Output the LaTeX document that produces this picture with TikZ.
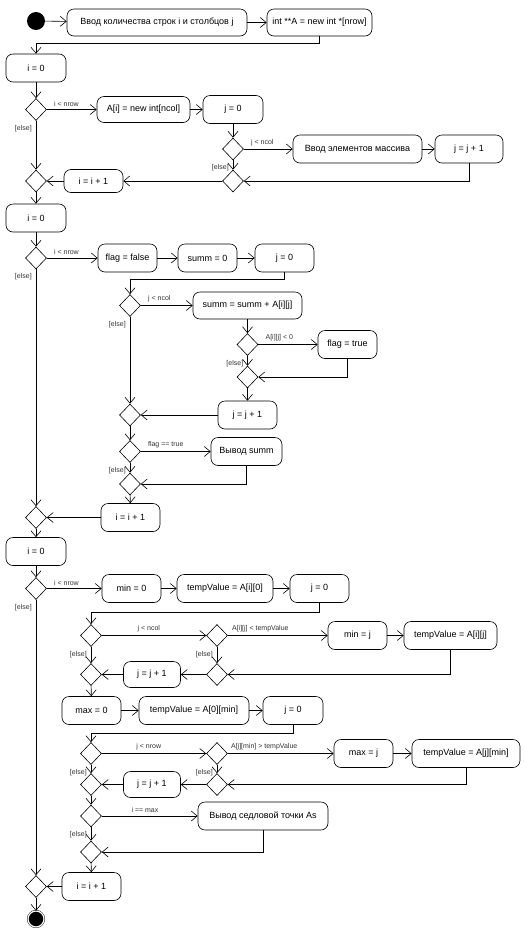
\documentclass[tikz,border=0pt]{standalone}
\usepackage{fontspec}
\setmainfont{Liberation Sans}
\usetikzlibrary{arrows.meta,positioning,shapes.geometric,calc}
\tikzset{
  actbox/.style={draw, rounded corners=7pt, align=center,
                 minimum width=#1, minimum height=28pt,
                 font=\fontsize{9}{10}\selectfont, inner sep=2pt,
                 line width=0.6pt},
  actbox/.default=59pt,
  decnode/.style={draw, diamond, minimum width=21pt, minimum height=22pt,
                  inner sep=0pt, line width=0.6pt},
  flow/.style={-{Straight Barb[length=6pt,width=10pt]}, line width=0.6pt},
  lbl/.style={font=\fontsize{7}{8}\selectfont, inner sep=1pt, text=black!80},
  gfirst/.style={lbl, pos=0, above right, xshift=6pt, yshift=2pt},
  gmid/.style={lbl, pos=0.45, above, yshift=2pt},
  gelse/.style={lbl, pos=0, below left, xshift=-3pt, yshift=-3pt},
  startnode/.style={circle, fill=black, minimum size=18pt, inner sep=0pt},
  endnode/.style={circle, fill=black, draw=black, double=white,
                  double distance=1.2pt, minimum size=16pt, inner sep=0pt},
}

\begin{document}
\begin{tikzpicture}[x=1pt, y=-1pt]
  \useasboundingbox (0,0) rectangle (524,930);

  % input and allocation of rows
  \node[startnode] (start) at (36,21) {};
  \node[actbox=180pt, minimum height=27pt] (inrc) at (157,22.5) {Ввод количества строк i и столбцов j};
  \node[actbox=105pt, minimum height=27pt] (alloc) at (319.5,22.5) {int **A = new int *[nrow]};
  \node[actbox=60pt] (iA) at (36,68) {i = 0};
  \node[decnode] (dA) at (36,109.5) {};
  \node[actbox=93pt, minimum height=26pt] (rowA) at (143.5,109.5) {A[i] = new int[ncol]};
  \node[actbox=60pt] (jA) at (233,109.5) {j = 0};
  \node[decnode] (dB) at (233,149) {};
  \node[actbox=129pt] (inel) at (357.5,149) {Ввод элементов массива};
  \node[actbox=68pt] (jincA) at (469,149) {j = j + 1};
  \node[decnode] (mB) at (233,181) {};
  \node[actbox=59pt, minimum height=23pt] (iincA) at (93.5,181) {i = i + 1};
  \node[decnode] (mA) at (36,181) {};

  \draw[flow] (start) -- (inrc);
  \draw[flow] (inrc) -- (alloc);
  \draw[flow] (alloc.south) -- ++(0,7) -| (iA.north);
  \draw[flow] (iA) -- (dA);
  \draw[flow] (dA) -- node[gfirst] {i < nrow} (rowA);
  \draw[flow] (rowA) -- (jA);
  \draw[flow] (jA) -- (dB);
  \draw[flow] (dB) -- node[gfirst] {j < ncol} (inel);
  \draw[flow] (inel) -- (jincA);
  \draw[flow] (jincA.south) |- (mB.east);
  \draw[flow] (dB) -- node[gelse] {[else]} (mB);
  \draw[flow] (mB) -- (iincA);
  \draw[flow] (iincA) -- (mA);
  \draw[flow] (dA) -- node[gelse] {[else]} (mA);

  % sums of rows
  \node[actbox=60pt] (iB) at (36,218) {i = 0};
  \node[decnode] (dC) at (36,258) {};
  \node[actbox] (flagF) at (127.5,258) {flag = false};
  \node[actbox] (summ0) at (207.5,258) {summ = 0};
  \node[actbox] (jB) at (284.5,258) {j = 0};
  \node[decnode] (dD) at (130,305.5) {};
  \node[actbox=109pt, minimum height=27pt] (summadd) at (247.5,305.5) {summ = summ + A[i][j]};
  \node[decnode] (dE) at (247.5,344.5) {};
  \node[actbox] (flagT) at (347.5,344.5) {flag = true};
  \node[decnode] (mE) at (247.5,377) {};
  \node[actbox] (jincB) at (247.5,415) {j = j + 1};
  \node[decnode] (mD) at (130,415) {};
  \node[decnode] (dF) at (130,451.5) {};
  \node[actbox=71pt] (outsumm) at (246.5,451.5) {Вывод summ};
  \node[decnode] (mF) at (130,484) {};
  \node[actbox] (iincB) at (130.5,517.5) {i = i + 1};
  \node[decnode] (mC) at (36,517.5) {};

  \draw[flow] (mA) -- (iB);
  \draw[flow] (iB) -- (dC);
  \draw[flow] (dC) -- node[gfirst] {i < nrow} (flagF);
  \draw[flow] (flagF) -- (summ0);
  \draw[flow] (summ0) -- (jB);
  \draw[flow] (jB.south) -- ++(0,7) -| (dD.north);
  \draw[flow] (dD) -- node[gfirst] {j < ncol} (summadd);
  \draw[flow] (summadd) -- (dE);
  \draw[flow] (dE) -- node[gfirst] {A[i][j] < 0} (flagT);
  \draw[flow] (dE) -- node[gelse] {[else]} (mE);
  \draw[flow] (flagT.south) |- (mE.east);
  \draw[flow] (mE) -- (jincB);
  \draw[flow] (jincB) -- (mD);
  \draw[flow] (dD) -- node[gelse] {[else]} (mD);
  \draw[flow] (mD) -- (dF);
  \draw[flow] (dF) -- node[gfirst] {flag == true} (outsumm);
  \draw[flow] (dF) -- node[gelse] {[else]} (mF);
  \draw[flow] (outsumm.south) |- (mF.east);
  \draw[flow] (mF) -- (iincB);
  \draw[flow] (iincB) -- (mC);
  \draw[flow] (dC) -- node[gelse] {[else]} (mC);

  % saddle points
  \node[actbox=60pt] (iC) at (36,551.5) {i = 0};
  \node[decnode] (dG) at (36,588.5) {};
  \node[actbox] (min0) at (131.5,588.5) {min = 0};
  \node[actbox=96pt] (tv0) at (225,588.5) {tempValue = A[i][0]};
  \node[actbox] (jC) at (319.5,588.5) {j = 0};
  \node[decnode] (dH) at (91,635.5) {};
  \node[decnode] (dI) at (217,635.5) {};
  \node[actbox] (minj) at (357.5,635.5) {min = j};
  \node[actbox=93pt] (tvij) at (450.5,635.5) {tempValue = A[i][j]};
  \node[decnode] (mI) at (217,674.5) {};
  \node[actbox=57pt, minimum height=26pt] (jincC) at (152,674.5) {j = j + 1};
  \node[decnode] (mH) at (91,674.5) {};
  \node[actbox] (max0) at (91.5,710.5) {max = 0};
  \node[actbox=110pt] (tvmin) at (194,710.5) {tempValue = A[0][min]};
  \node[actbox=60pt] (jD) at (293,710.5) {j = 0};
  \node[decnode] (dJ) at (91,753.5) {};
  \node[decnode] (dK) at (217,753.5) {};
  \node[actbox] (maxj) at (363.5,753.5) {max = j};
  \node[actbox=108pt] (tvjmin) at (466,753.5) {tempValue = A[j][min]};
  \node[decnode] (mK) at (217,784.5) {};
  \node[actbox=57pt, minimum height=26pt] (jincD) at (152,784.5) {j = j + 1};
  \node[decnode] (mJ) at (91,784.5) {};
  \node[decnode] (dL) at (91,816) {};
  \node[actbox=130pt] (outsp) at (263,816) {Вывод седловой точки As};
  \node[decnode] (mL) at (91,852) {};
  \node[actbox] (iincC) at (91.5,886.5) {i = i + 1};
  \node[decnode] (mG) at (36,886.5) {};
  \node[endnode] (stop) at (36,919) {};

  \draw[flow] (mC) -- (iC);
  \draw[flow] (iC) -- (dG);
  \draw[flow] (dG) -- node[gfirst] {i < nrow} (min0);
  \draw[flow] (min0) -- (tv0);
  \draw[flow] (tv0) -- (jC);
  \draw[flow] (jC.south) -- ++(0,9) -| (dH.north);
  \draw[flow] (dH) -- node[gmid] {j < ncol} (dI);
  \draw[flow] (dI) -- node[gfirst, xshift=-3pt] {A[i][j] < tempValue} (minj);
  \draw[flow] (minj) -- (tvij);
  \draw[flow] (tvij.south) |- (mI.east);
  \draw[flow] (dI) -- node[gelse] {[else]} (mI);
  \draw[flow] (mI) -- (jincC);
  \draw[flow] (jincC) -- (mH);
  \draw[flow] (dH) -- node[gelse] {[else]} (mH);
  \draw[flow] (mH) -- (max0);
  \draw[flow] (max0) -- (tvmin);
  \draw[flow] (tvmin) -- (jD);
  \draw[flow] (jD.south) -- ++(0,8) -| (dJ.north);
  \draw[flow] (dJ) -- node[gmid] {j < nrow} (dK);
  \draw[flow] (dK) -- node[gfirst, xshift=-4pt] {A[j][min] > tempValue} (maxj);
  \draw[flow] (maxj) -- (tvjmin);
  \draw[flow] (tvjmin.south) |- (mK.east);
  \draw[flow] (dK) -- node[gelse] {[else]} (mK);
  \draw[flow] (mK) -- (jincD);
  \draw[flow] (jincD) -- (mJ);
  \draw[flow] (dJ) -- node[gelse] {[else]} (mJ);
  \draw[flow] (mJ) -- (dL);
  \draw[flow] (dL) -- node[gmid] {i == max} (outsp);
  \draw[flow] (outsp.south) |- (mL.east);
  \draw[flow] (dL) -- node[gelse] {[else]} (mL);
  \draw[flow] (mL) -- (iincC);
  \draw[flow] (iincC) -- (mG);
  \draw[flow] (dG) -- node[gelse] {[else]} (mG);
  \draw[flow] (mG) -- (stop);
\end{tikzpicture}
\end{document}
